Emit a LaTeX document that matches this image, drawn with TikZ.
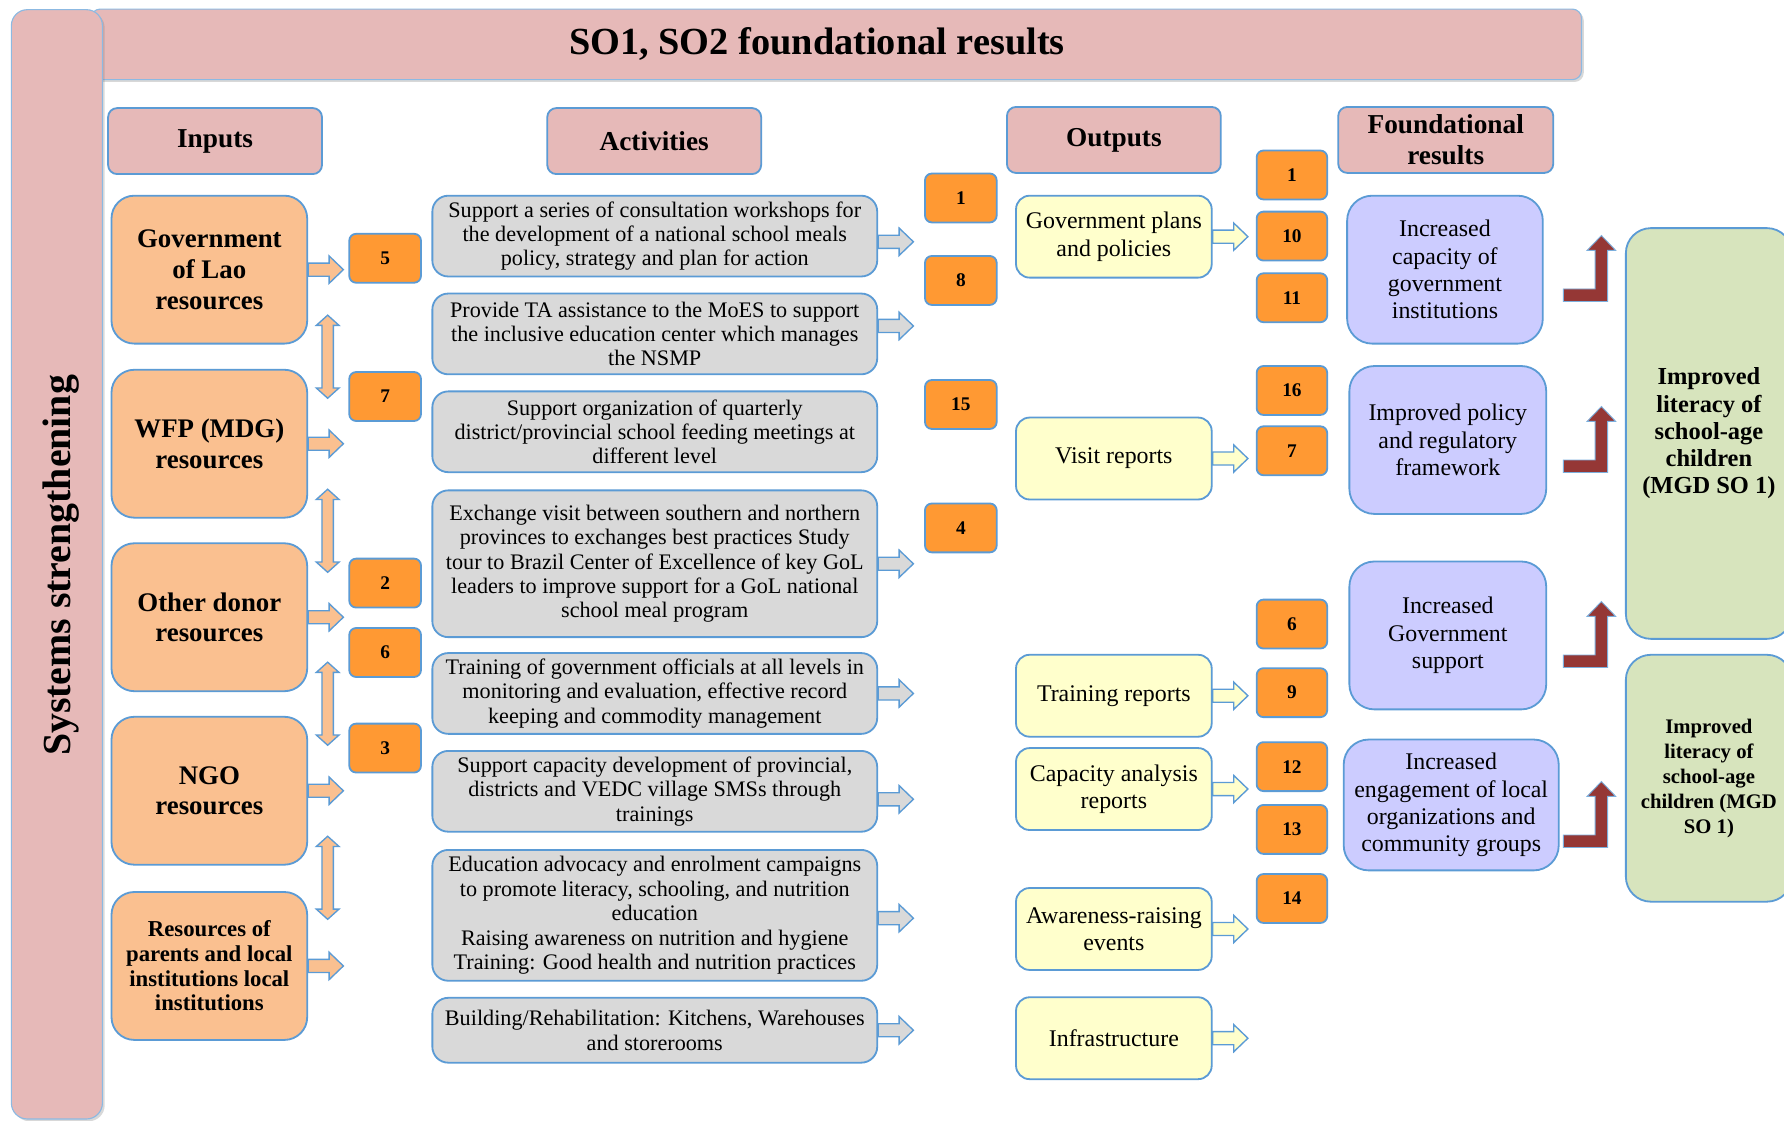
\documentclass[tikz,border=0pt]{standalone}
\usepackage{fontspec}
\setmainfont{Liberation Serif}
\usetikzlibrary{shadows}

\definecolor{edge}{HTML}{5B9BD5}
\definecolor{pinkfill}{HTML}{E6B9B8}
\definecolor{lightorange}{HTML}{FAC090}
\definecolor{numorange}{HTML}{FF9933}
\definecolor{actgray}{HTML}{D9D9D9}
\definecolor{outyellow}{HTML}{FFFFCC}
\definecolor{lavender}{HTML}{CCCCFF}
\definecolor{goalgreen}{HTML}{D7E4BD}
\definecolor{darkred}{HTML}{953735}

\tikzset{
  bx/.style={draw=edge, line width=1.6pt, inner sep=0pt, align=center},
  bar/.style={draw=edge!70, line width=1pt, fill=pinkfill, inner sep=0pt,
    drop shadow={shadow xshift=2pt, shadow yshift=-2pt, opacity=0.3}},
  hdr/.style={bx, fill=pinkfill, rounded corners=8pt, minimum width=188pt,
    minimum height=58pt, font=\bfseries\fontsize{24}{27}\selectfont},
  inbox/.style={bx, fill=lightorange, rounded corners=20pt, minimum width=172pt,
    minimum height=130pt, font=\bfseries\fontsize{23.6}{27}\selectfont},
  numbox/.style={bx, fill=numorange, rounded corners=6pt, minimum width=63pt,
    minimum height=43pt, font=\bfseries\fontsize{17}{20}\selectfont},
  actbox/.style={bx, fill=actgray, rounded corners=14pt, minimum width=391pt,
    font=\fontsize{19.5}{21.5}\selectfont},
  outbox/.style={bx, fill=outyellow, rounded corners=12pt, minimum width=172pt,
    minimum height=72pt, font=\fontsize{21}{24}\selectfont},
  resbox/.style={bx, fill=lavender, rounded corners=22pt,
    font=\fontsize{21}{24}\selectfont},
  goalbox/.style={bx, fill=goalgreen, rounded corners=22pt, minimum width=146pt},
  inarrow/.style={draw=edge, line width=1.2pt, fill=lightorange},
  actarrow/.style={draw=edge, line width=1.2pt, fill=actgray},
  outarrow/.style={draw=edge, line width=1.2pt, fill=outyellow},
  uparrow/.style={draw=edge!80, line width=0.8pt, fill=darkred},
  rarrow/.pic={\path[pic actions] (0,-5.75) -- (18.5,-5.75) -- (18.5,-12)
    -- (31,0) -- (18.5,12) -- (18.5,5.75) -- (0,5.75) -- cycle;},
  vdarrow/.pic={\path[pic actions] (0,0) -- (10,9) -- (5,9) -- (5,64)
    -- (10,64) -- (0,73) -- (-10,64) -- (-5,64) -- (-5,9) -- (-10,9) -- cycle;},
  bentarrow/.pic={\path[pic actions] (0,0) -- (28,0) -- (28,-34) -- (21,-34)
    -- (33.5,-47) -- (46,-34) -- (39,-34) -- (39,11) -- (0,11) -- cycle;},
}

\begin{document}
\begin{tikzpicture}[x=1pt,y=-1pt]
\useasboundingbox[fill=white] (0,0) rectangle (1568,985);

% frame: title bar and side bar
\node[bar, rounded corners=8pt, minimum width=1310pt, minimum height=62pt] (topbar) at (735,39) {};
\node[bar, rounded corners=14pt, minimum width=80pt, minimum height=975pt] (sidebar) at (50,496) {};
\node[font=\bfseries\fontsize{33.7}{38}\selectfont] (title) at (718,39) {SO1, SO2 foundational results};
\node[rotate=90, font=\bfseries\fontsize{35}{40}\selectfont] (sidetext) at (54,497) {Systems strengthening};

% column headers
\node[hdr] (hin)  at (189,124) {Inputs};
\node[hdr] (hact) at (575,124) {Activities};
\node[hdr] (hout) at (979,123) {Outputs};
\node[hdr, minimum width=189pt] (hfr) at (1270.7,123) {Foundational\\results};

% inputs
\node[inbox] (gov) at (184,237) {Government\\of Lao\\resources};
\node[inbox] (wfp) at (184,390) {WFP (MDG)\\resources};
\node[inbox] (oth) at (184,542.5) {Other donor\\resources};
\node[inbox] (ngo) at (184,695) {NGO\\resources};
\node[inbox, font=\bfseries\fontsize{20}{21.7}\selectfont] (res) at (184,849)
  {Resources of\\parents and local\\institutions local\\institutions};

\foreach \b in {gov,wfp,oth,ngo,res}
  \pic[inarrow] at (\b.east) {rarrow};

\pic[inarrow] at (288,277) {vdarrow};
\pic[inarrow] at (288,430) {vdarrow};
\pic[inarrow] at (288,582) {vdarrow};
\pic[inarrow] at (288,735) {vdarrow};

% first column of reference numbers
\node[numbox] (n5) at (338.5,227) {5};
\node[numbox] (n7) at (338.5,348.5) {7};
\node[numbox] (n2) at (338.5,512.5) {2};
\node[numbox] (n6) at (338.5,573.5) {6};
\node[numbox] (n3) at (338.5,657.5) {3};

% activities
\node[actbox, minimum height=71pt] (a1) at (575.5,207.5)
  {Support a series of consultation workshops for\\the development of a national school meals\\policy, strategy and plan for action};
\node[actbox, minimum height=71pt] (a2) at (575.5,293.5)
  {Provide TA assistance to the MoES to support\\the inclusive education center which manages\\the NSMP};
\node[actbox, minimum height=71pt] (a3) at (575.5,379.5)
  {Support organization of quarterly\\district/provincial school feeding meetings at\\different level};
\node[actbox, minimum height=129pt] (a4) at (575.5,495.5)
  {Exchange visit between southern and northern\\provinces to exchanges best practices Study\\tour to Brazil Center of Excellence of key GoL\\leaders to improve support for a GoL national\\school meal program};
\node[actbox, minimum height=71pt] (a5) at (575.5,609.5)
  {Training of government officials at all levels in\\monitoring and evaluation, effective record\\keeping and commodity management};
\node[actbox, minimum height=71pt] (a6) at (575.5,695.5)
  {Support capacity development of provincial,\\districts and VEDC village SMSs through\\trainings};
\node[actbox, minimum height=115pt] (a7) at (575.5,804.5)
  {Education advocacy and enrolment campaigns\\to promote literacy, schooling, and nutrition\\education\\Raising awareness on nutrition and hygiene\\Training: Good health and nutrition practices};
\node[actbox, minimum height=57pt] (a8) at (575.5,905.5)
  {Building/Rehabilitation: Kitchens, Warehouses\\and storerooms};

\pic[actarrow] at ([yshift=-5pt]a1.east) {rarrow};
\pic[actarrow] at ([yshift=7pt]a2.east) {rarrow};
\pic[actarrow] at (a4.east) {rarrow};
\pic[actarrow] at (a5.east) {rarrow};
\pic[actarrow] at ([yshift=-7pt]a6.east) {rarrow};
\pic[actarrow] at ([yshift=-2.5pt]a7.east) {rarrow};
\pic[actarrow] at (a8.east) {rarrow};

% second column of reference numbers
\node[numbox] (m1)  at (844.5,174) {1};
\node[numbox] (m8)  at (844.5,246.5) {8};
\node[numbox] (m15) at (844.5,355.5) {15};
\node[numbox] (m4)  at (844.5,464) {4};

% outputs
\node[outbox] (o1) at (979,208) {Government plans\\and policies};
\node[outbox] (o2) at (979,403) {Visit reports};
\node[outbox] (o3) at (979,611.5) {Training reports};
\node[outbox] (o4) at (979,693.5) {Capacity analysis\\reports};
\node[outbox] (o5) at (979,816.5) {Awareness-raising\\events};
\node[outbox] (o6) at (979,912.5) {Infrastructure};

\foreach \b in {o1,o2,o3,o4,o5,o6}
  \pic[outarrow] at (\b.east) {rarrow};

% third column of reference numbers
\node[numbox, minimum width=62pt] (k1)  at (1135.5,153.8) {1};
\node[numbox, minimum width=62pt] (k10) at (1135.5,207.5) {10};
\node[numbox, minimum width=62pt] (k11) at (1135.5,261.7) {11};
\node[numbox, minimum width=62pt] (k16) at (1135.5,343.2) {16};
\node[numbox, minimum width=62pt] (k7)  at (1135.5,396.2) {7};
\node[numbox, minimum width=62pt] (k6)  at (1135.5,548.5) {6};
\node[numbox, minimum width=62pt] (k9)  at (1135.5,608.8) {9};
\node[numbox, minimum width=62pt] (k12) at (1135.5,673.8) {12};
\node[numbox, minimum width=62pt] (k13) at (1135.5,729) {13};
\node[numbox, minimum width=62pt] (k14) at (1135.5,789.7) {14};

% foundational results
\node[resbox, minimum width=172pt, minimum height=130pt] (f1) at (1270,237)
  {Increased\\capacity of\\government\\institutions};
\node[resbox, minimum width=173pt, minimum height=130pt] (f2) at (1272.5,386.7)
  {Improved policy\\and regulatory\\framework};
\node[resbox, minimum width=173pt, minimum height=130pt] (f3) at (1272.5,558.5)
  {Increased\\Government\\support};
\node[resbox, minimum width=189pt, minimum height=115pt] (f4) at (1275.5,707.5)
  {Increased\\engagement of local\\organizations and\\community groups};

% bent arrows towards the goals
\pic[uparrow] at (1374,254) {bentarrow};
\pic[uparrow] at (1374,404.3) {bentarrow};
\pic[uparrow] at (1374,575.7) {bentarrow};
\pic[uparrow] at (1374,733.9) {bentarrow};

% goals
\node[goalbox, minimum height=361pt, font=\bfseries\fontsize{21.5}{24}\selectfont] (g1) at (1502,381)
  {Improved\\literacy of\\school-age\\children\\(MGD SO 1)};
\node[goalbox, minimum height=217pt, font=\bfseries\fontsize{18.2}{22}\selectfont] (g2) at (1502,684)
  {Improved\\literacy of\\school-age\\children (MGD\\SO 1)};
\end{tikzpicture}
\end{document}
